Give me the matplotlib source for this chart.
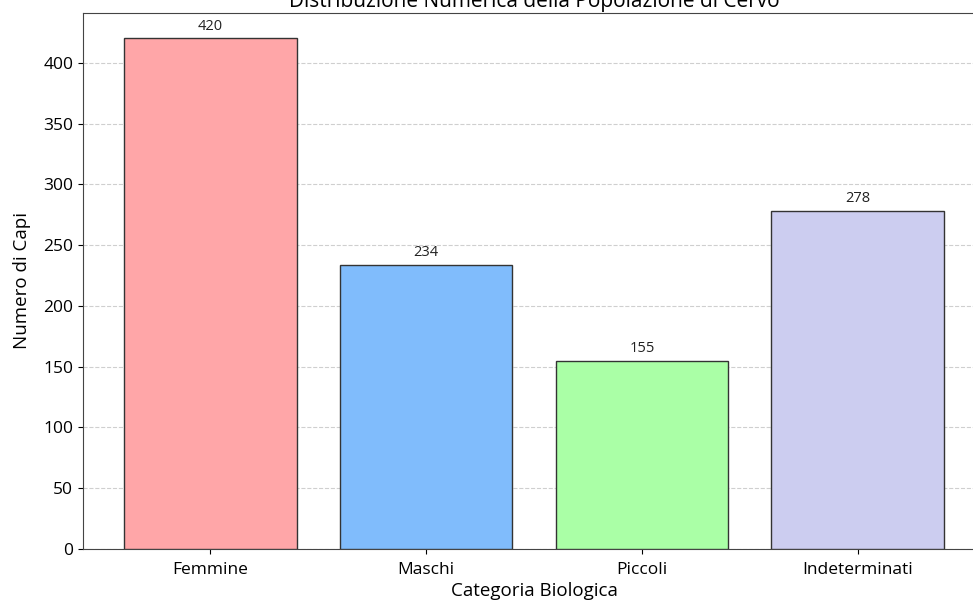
import matplotlib
matplotlib.use("Agg")
from matplotlib import pyplot as plt

categories = ['Femmine', 'Maschi', 'Piccoli', 'Indeterminati']
counts = [420, 234, 155, 278]
colors = ['#ffa6a8', '#80bcfc', '#aaffa6', '#cccdf0']

plt.rcParams['font.family'] = ['Open Sans', 'DejaVu Sans']

fig = plt.figure(figsize=(9.73, 6.03), dpi=100)
ax = fig.add_axes([0.0853, 0.0896, 0.927, 0.889])

bars = ax.bar(categories, counts, color=colors, edgecolor='#333333', linewidth=1.0, zorder=3)
for b, v in zip(bars, counts):
    ax.text(b.get_x() + b.get_width() / 2, v + 4, str(v), ha='center', va='bottom', fontsize=10.5, color='#222222')

ax.set_ylim(0, 441)
ax.yaxis.grid(True, linestyle='--', color='#bbbbbb', alpha=0.7, zorder=0)
ax.set_title('Distribuzione Numerica della Popolazione di Cervo', fontsize=15, pad=4)
ax.set_xlabel('Categoria Biologica', fontsize=13.5, labelpad=3)
ax.set_ylabel('Numero di Capi', fontsize=13.5, labelpad=9)
ax.tick_params(axis='both', labelsize=12.5)
ax.tick_params(axis='x', pad=6)
for s in ax.spines.values():
    s.set_color('#444444')
ax.spines['right'].set_visible(False)

fig.savefig('out.png', dpi=100)
